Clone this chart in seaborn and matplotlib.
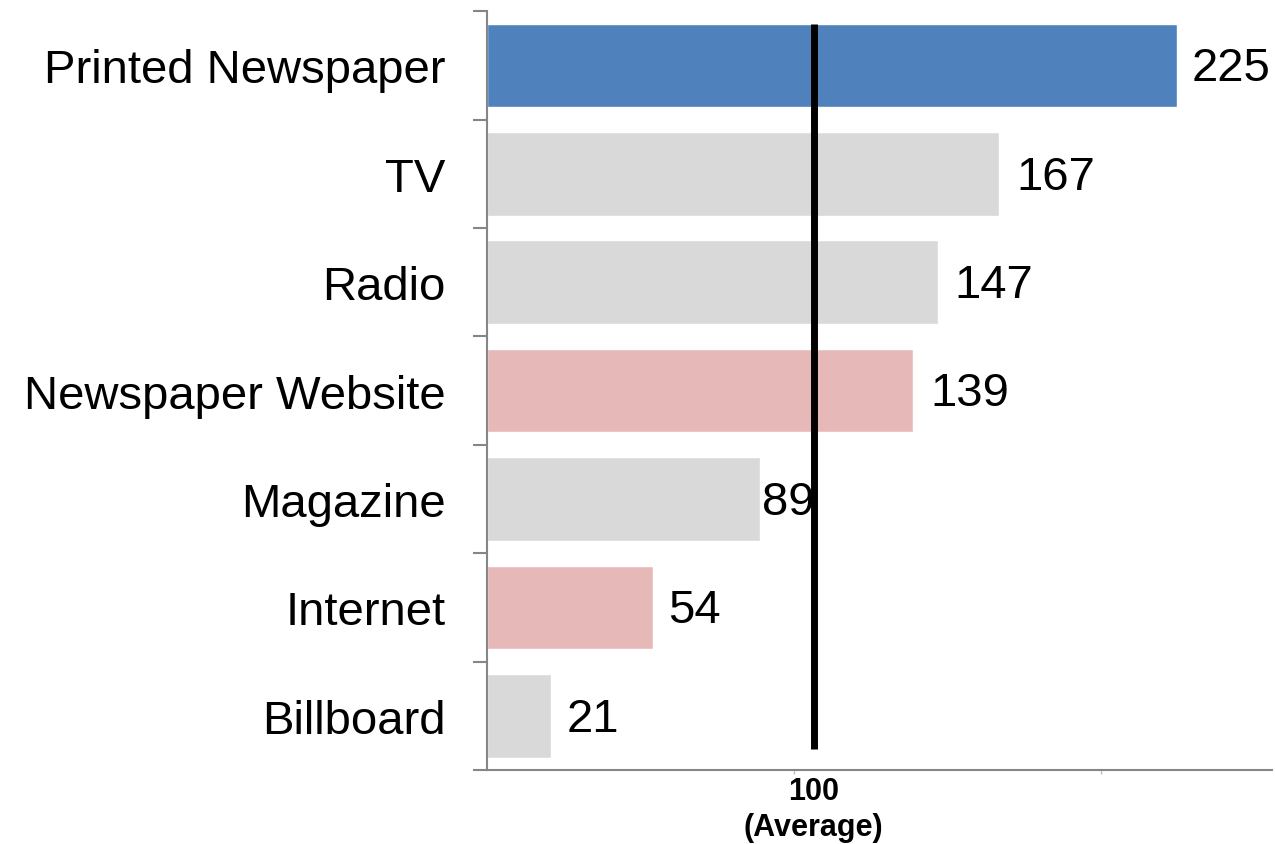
import matplotlib
matplotlib.use('Agg')
import matplotlib.pyplot as plt
import matplotlib.transforms as mtransforms
import seaborn as sns
import pandas as pd
import numpy as np

# Dados
channels = ['Printed Newspaper', 'TV', 'Radio', 'Newspaper Website', 'Magazine', 'Internet', 'Billboard']
index_values = [225, 167, 147, 139, 89, 54, 21]
bar_colors = ['#4F81BD', '#D9D9D9', '#D9D9D9', '#E6B9B8', '#D9D9D9', '#E6B9B8', '#D9D9D9']
label_offsets = [10, 12, 12, 12, 1.5, 11, 11]
average_text = '100\n(Average)'
average_line_at = 106.5

df = pd.DataFrame({'channel': channels, 'index': index_values})

sns.set_style('white')
plt.rcParams['font.family'] = ['Liberation Sans', 'DejaVu Sans']
plt.rcParams['text.color'] = 'black'
plt.rcParams['ytick.color'] = 'black'
plt.rcParams['xtick.color'] = 'black'

fig = plt.figure(figsize=(12.75, 8.45), dpi=100)
ax = fig.add_axes([0.382, 0.0876, 0.616, 0.898])

sns.barplot(data=df, x='index', y='channel', hue='channel', palette=bar_colors,
            legend=False, width=0.77, saturation=1, ax=ax)

# Rótulos de valor
for i, (v, off) in enumerate(zip(index_values, label_offsets)):
    ax.annotate(str(v), xy=(v, i), xytext=(off, -2), textcoords='offset points',
                va='center', ha='left', fontsize=34, color='black', zorder=3)

# Linha da média
ax.axvline(average_line_at, ymin=0.028, ymax=0.983, color='black', lw=5,
           solid_capstyle='butt', zorder=5)
trans = mtransforms.blended_transform_factory(ax.transData, ax.transAxes)
ax.text(average_line_at, -0.008, average_text, transform=trans, ha='center', va='top',
        fontsize=22, fontweight='bold', linespacing=1.25, color='black')

# Eixos
ax.set_xlim(0, 256)
ax.set_ylim(6.5, -0.5)
ax.set_xticks([100, 200])
ax.set_xticklabels([])
ax.tick_params(axis='x', bottom=True, length=3, width=1, color='#BFBFBF', direction='out')

ax.set_yticks(np.arange(-0.5, 7, 1))
ax.set_yticklabels([])
ax.set_yticks(range(len(channels)), channels, minor=True)
ax.tick_params(axis='y', which='major', left=True, length=10, width=1.5,
               color='#868686', direction='out')
ax.tick_params(axis='y', which='minor', left=True, length=0, pad=30,
               labelsize=34, labelcolor='black')

ax.set_xlabel('')
ax.set_ylabel('')
sns.despine(ax=ax)
for s in ['left', 'bottom']:
    ax.spines[s].set_color('#868686')
    ax.spines[s].set_linewidth(1.5)

fig.savefig('out.png', dpi=100)
